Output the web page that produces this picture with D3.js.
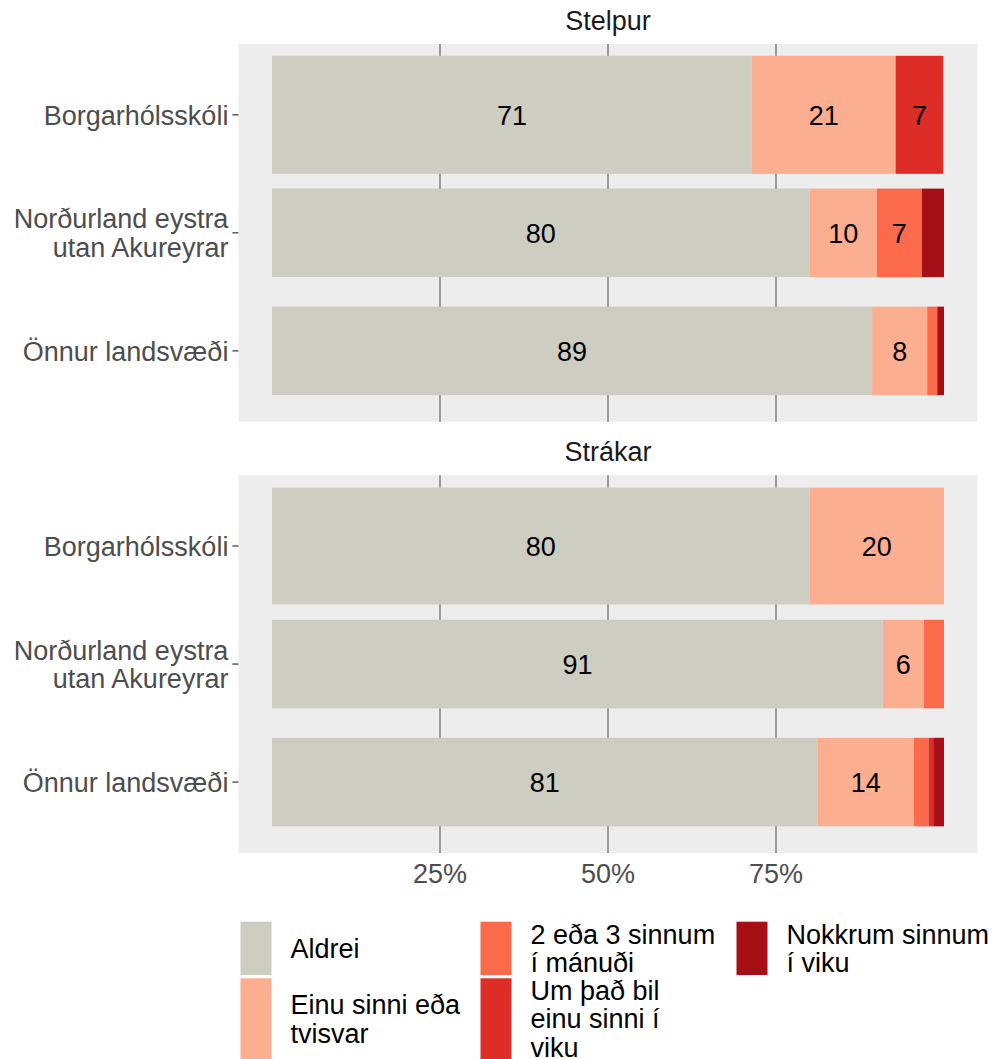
<!DOCTYPE html>
<html>
<head>
<meta charset="utf-8">
<script src="https://cdn.jsdelivr.net/npm/d3@7"></script>
<style>
  body { margin: 0; background: #fff; }
  svg text { font-family: "Liberation Sans", Arial, Helvetica, sans-serif; }
</style>
</head>
<body>
<svg id="chart" width="998" height="1059"></svg>
<script>
// ---- data ----
const categories = ["Aldrei", "Einu sinni eða tvisvar", "2 eða 3 sinnum í mánuði", "Um það bil einu sinni í viku", "Nokkrum sinnum í viku"];
const legendLabels = [["Aldrei"], ["Einu sinni eða", "tvisvar"], ["2 eða 3 sinnum", "í mánuði"], ["Um það bil", "einu sinni í", "viku"], ["Nokkrum sinnum", "í viku"]];
const colors = ["#CDCDC1", "#FCAE91", "#FB6A4A", "#DE2D26", "#A50F15"];
const groups = ["Stelpur", "Strákar"];
const schools = ["Borgarhólsskóli", "Norðurland eystra utan Akureyrar", "Önnur landsvæði"];
const schoolLabels = [["Borgarhólsskóli"], ["Norðurland eystra", "utan Akureyrar"], ["Önnur landsvæði"]];
// percentages per school, in category order
const stelpurValues = [
  [71.4, 21.4, 0, 7.1, 0],
  [80.0, 10.0, 6.7, 0, 3.3],
  [89.3, 8.2, 1.5, 0, 1.0]
];
const strakarValues = [
  [80.0, 20.0, 0, 0, 0],
  [90.9, 6.1, 3.0, 0, 0],
  [81.2, 14.3, 2.2, 0.7, 1.6]
];
// relative bar thickness per school
const stelpurWidths = [1.0, 0.75, 0.75];
const strakarWidths = [0.99, 0.75, 0.75];
const xTicks = [25, 50, 75];

const groupValues = [stelpurValues, strakarValues];
const groupWidths = [stelpurWidths, strakarWidths];

// ---- layout ----
const svg = d3.select("#chart");
const FS = 27;
const x = d3.scaleLinear().domain([0, 100]).range([272, 944]);
const panelX0 = x(-5), panelX1 = x(105);
const panelTops = [44, 475.2];
const panelH = 377.7;

groups.forEach((g, gi) => {
  const top = panelTops[gi];
  const y = d3.scaleLinear().domain([0.4, 3.6]).range([top, top + panelH]);
  const unit = y(1) - y(0);
  const pg = svg.append("g");

  // strip title
  pg.append("text")
    .attr("x", (panelX0 + panelX1) / 2).attr("y", top - 14.5)
    .attr("text-anchor", "middle").attr("font-size", FS).attr("fill", "#1A1A1A")
    .text(g);

  // panel background
  pg.append("rect").attr("x", panelX0).attr("y", top)
    .attr("width", panelX1 - panelX0).attr("height", panelH).attr("fill", "#EDEDED");

  // grid lines
  pg.selectAll("line.grid").data(xTicks).join("line")
    .attr("x1", d => x(d)).attr("x2", d => x(d))
    .attr("y1", top).attr("y2", top + panelH)
    .attr("stroke", "#555").attr("stroke-width", 1.1);

  // bars
  const vals = groupValues[gi];
  schools.forEach((s, si) => {
    const c = si + 1;
    const w = groupWidths[gi][si] * unit;
    let cum = 0;
    const segs = vals[si].map((v, ci) => { const seg = { ci, v, start: cum }; cum += v; return seg; });
    pg.selectAll(null).data(segs.filter(d => d.v > 0)).join("rect")
      .attr("x", d => x(d.start)).attr("width", d => x(d.start + d.v) - x(d.start))
      .attr("y", y(c) - w / 2).attr("height", w)
      .attr("fill", d => colors[d.ci]);
    pg.selectAll(null).data(segs.filter(d => d.v >= 5)).join("text")
      .attr("x", d => x(d.start + d.v / 2)).attr("y", y(c) + 9.7)
      .attr("text-anchor", "middle").attr("font-size", FS).attr("fill", "#000")
      .text(d => Math.round(d.v));

    // y tick
    pg.append("line").attr("x1", panelX0 - 6).attr("x2", panelX0)
      .attr("y1", y(c)).attr("y2", y(c)).attr("stroke", "#333").attr("stroke-width", 1.2);
    // y label
    const lines = schoolLabels[si];
    const lh = 28.3;
    const t = pg.append("text").attr("text-anchor", "end").attr("font-size", FS).attr("fill", "#4D4D4D");
    lines.forEach((ln, li) => {
      t.append("tspan").attr("x", panelX0 - 10)
        .attr("y", y(c) + 9.7 + (li - (lines.length - 1) / 2) * lh)
        .text(ln);
    });
  });
});

// x axis labels
svg.selectAll("text.xt").data(xTicks).join("text")
  .attr("x", d => x(d)).attr("y", 883)
  .attr("text-anchor", "middle").attr("font-size", FS).attr("fill", "#4D4D4D")
  .text(d => d + "%");

// ---- legend (2 rows, column-major) ----
const colKeyX = [240.5, 480.5, 736.5];
const colTextX = [290.5, 530.5, 786.5];
const rowTop = [921.7, 978.3];
const rowH = [53.3, 80.8];
const keyW = 31;
const lg = svg.append("g");
categories.forEach((cat, i) => {
  const col = Math.floor(i / 2), row = i % 2;
  lg.append("rect").attr("x", colKeyX[col]).attr("y", rowTop[row])
    .attr("width", keyW).attr("height", rowH[row]).attr("fill", colors[i]);
  const cy = rowTop[row] + rowH[row] / 2;
  const lines = legendLabels[i];
  const t = lg.append("text").attr("font-size", FS).attr("fill", "#000");
  lines.forEach((ln, li) => {
    t.append("tspan").attr("x", colTextX[col])
      .attr("y", cy + 9.7 + (li - (lines.length - 1) / 2) * 28.3)
      .text(ln);
  });
});
</script>
</body>
</html>
